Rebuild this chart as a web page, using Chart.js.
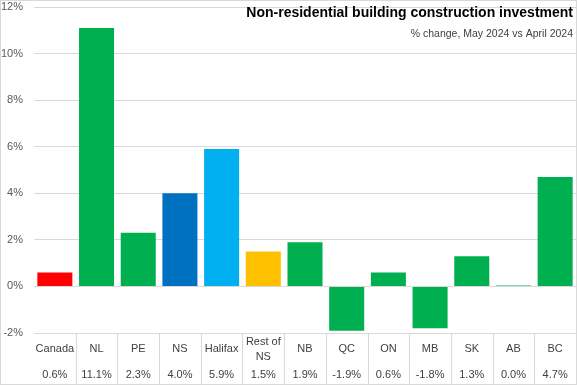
<!DOCTYPE html>
<html>
<head>
<meta charset="utf-8">
<script src="https://cdn.jsdelivr.net/npm/chart.js@4.4.1/dist/chart.umd.min.js"></script>
<style>
html,body{margin:0;padding:0;background:#fff;}
#wrap{width:577px;height:385px;position:relative;}
</style>
</head>
<body>
<div id="wrap"><canvas id="c" width="577" height="385"></canvas></div>
<script>
const categories = ["Canada", "NL", "PE", "NS", "Halifax", ["Rest of", "NS"], "NB", "QC", "ON", "MB", "SK", "AB", "BC"];
const changePct = [0.6, 11.1, 2.3, 4.0, 5.9, 1.5, 1.9, -1.9, 0.6, -1.8, 1.3, 0.04, 4.7];
const barColors = ["#FF0000", "#00B050", "#00B050", "#0070C0", "#00B0F0", "#FFC000", "#00B050", "#00B050", "#00B050", "#00B050", "#00B050", "#00B050", "#00B050"];
const yTicks = [-2, 0, 2, 4, 6, 8, 10, 12];
const titleText = "Non-residential building construction investment";
const subtitleText = "% change, May 2024 vs April 2024";

const FONT = "'Liberation Sans', Arial, sans-serif";

const tablePlugin = {
  id: 'tablePlugin',
  afterDraw(chart) {
    const ctx = chart.ctx;
    const xs = chart.scales.x;
    const area = chart.chartArea;
    const H = chart.height, W = chart.width;
    ctx.save();
    ctx.strokeStyle = '#d9d9d9';
    ctx.lineWidth = 1;
    const n = categories.length;
    const step = (area.right - area.left) / n;
    for (let i = 1; i < n; i++) {
      const x = Math.round(xs.getPixelForValue(i) - step / 2) + 0.5;
      ctx.beginPath();
      ctx.moveTo(x, area.bottom);
      ctx.lineTo(x, H);
      ctx.stroke();
    }
    ctx.fillStyle = '#404040';
    ctx.font = "11px " + FONT;
    ctx.textAlign = 'center';
    ctx.textBaseline = 'middle';
    categories.forEach((c, i) => {
      const x = xs.getPixelForValue(i);
      if (Array.isArray(c)) {
        ctx.fillText(c[0], x, area.bottom + 8.5);
        ctx.fillText(c[1], x, area.bottom + 23.5);
      } else {
        ctx.fillText(c, x, area.bottom + 16);
      }
      ctx.fillText(changePct[i].toFixed(1) + '%', x, area.bottom + 41.5);
    });
    ctx.fillStyle = '#000000';
    ctx.textAlign = 'right';
    ctx.font = "bold 14px " + FONT;
    ctx.fillText(titleText, 573, 13);
    ctx.fillStyle = '#404040';
    ctx.font = "10.5px " + FONT;
    ctx.fillText(subtitleText, 573, 34);
    ctx.strokeStyle = '#d9d9d9';
    ctx.strokeRect(0.5, 0.5, W - 1, H - 1);
    ctx.restore();
  }
};

new Chart(document.getElementById('c'), {
  type: 'bar',
  data: {
    labels: categories,
    datasets: [{
      data: changePct,
      backgroundColor: barColors,
      borderWidth: 0,
      barPercentage: 0.84,
      categoryPercentage: 1.0
    }]
  },
  options: {
    responsive: false,
    animation: false,
    devicePixelRatio: 1,
    layout: { padding: { top: 7, bottom: 52, left: 0, right: 1 } },
    plugins: { legend: { display: false }, tooltip: { enabled: false }, title: { display: false } },
    scales: {
      x: { display: false, offset: true },
      y: {
        min: yTicks[0], max: yTicks[yTicks.length - 1],
        afterBuildTicks: (s) => { s.ticks = yTicks.map(v => ({ value: v })); },
        afterFit: (s) => { s.width = 34; s.paddingTop = 0; s.paddingBottom = 0; },
        border: { display: false },
        grid: { color: '#d9d9d9', drawTicks: false, lineWidth: 1 },
        ticks: {
          padding: 11,
          color: '#595959',
          font: { family: FONT, size: 11 },
          callback: (v) => v + '%'
        }
      }
    }
  },
  plugins: [tablePlugin]
});
</script>
</body>
</html>
